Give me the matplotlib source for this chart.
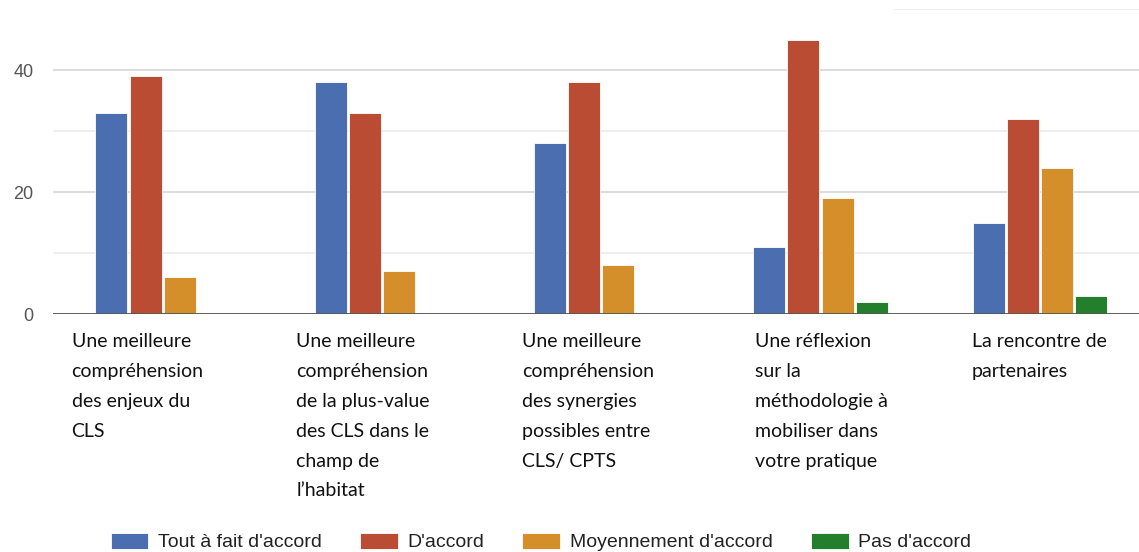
import numpy as np
import matplotlib.pyplot as plt
import matplotlib.transforms as mtransforms

# données
categories = [
    "Une meilleure\ncompréhension\ndes enjeux du\nCLS",
    "Une meilleure\ncompréhension\nde la plus-value\ndes CLS dans le\nchamp de\nl\u2019habitat",
    "Une meilleure\ncompréhension\ndes synergies\npossibles entre\nCLS/ CPTS",
    "Une réflexion\nsur la\nméthodologie à\nmobiliser dans\nvotre pratique",
    "La rencontre de\npartenaires",
]
series_names = ["Tout à fait d'accord", "D'accord", "Moyennement d'accord", "Pas d'accord"]
tout_a_fait = [33, 38, 28, 11, 15]
d_accord = [39, 33, 38, 45, 32]
moyennement = [6, 7, 8, 19, 24]
pas_d_accord = [0, 0, 0, 2, 3]
yticks = [0, 20, 40]

# mise en page
colors = ['#4b6eb1', '#b94c33', '#d48f2b', '#237f2c']
label_shift = [-0.415, -0.39, -0.36, -0.30, -0.31]

fig = plt.figure(figsize=(11.39, 5.52), dpi=100)
ax = fig.add_axes([0.0465, 0.431, 0.9627, 0.5527])

x = np.arange(len(categories))
step = 0.156
width = 0.146
handles = []
for j, (vals, col) in enumerate(zip([tout_a_fait, d_accord, moyennement, pas_d_accord], colors)):
    b = ax.bar(x + (j - 1.5) * step, vals, width, color=col, edgecolor='white',
               linewidth=0.6, zorder=3, label=series_names[j])
    handles.append(b)

ax.set_xlim(-0.5, len(categories) - 0.5)
ax.set_ylim(0, 50)
ax.set_yticks(yticks)
ax.set_yticks([10, 30], minor=True)
ax.set_yticklabels([str(v) for v in yticks], fontsize=13, color='#555555',
                   family=['Liberation Sans', 'DejaVu Sans'])
ax.tick_params(axis='y', length=0, pad=14)
ax.tick_params(axis='y', which='minor', length=0)
ax.set_xticks([])
ax.grid(axis='y', which='major', color='#d9d9d9', linewidth=1.3, zorder=0)
ax.grid(axis='y', which='minor', color='#ededed', linewidth=1.3, zorder=0)
ax.axhline(50, xmin=0.768, xmax=1, color='#ededed', linewidth=1.3, zorder=0)
ax.axhline(0, color='#555555', linewidth=2, zorder=4)
for s in ax.spines.values():
    s.set_visible(False)

# libellés des catégories
trans = mtransforms.blended_transform_factory(ax.transData, fig.transFigure)
for i, lab in enumerate(categories):
    ax.text(i + label_shift[i], 1 - 333 / 552, lab, transform=trans, ha='left', va='top',
            fontsize=14, family=['Lato', 'DejaVu Sans'], color='#111111',
            linespacing=1.92, clip_on=False)

fig.legend(handles=handles, labels=series_names, loc='center', ncol=4,
           bbox_to_anchor=(0.475, 0.018), frameon=False,
           prop={'family': ['Liberation Sans', 'DejaVu Sans'], 'size': 14},
           handlelength=1.95, handleheight=0.9, handletextpad=0.5, columnspacing=1.95,
           labelcolor='#222222')

fig.savefig('out.png', dpi=100)
